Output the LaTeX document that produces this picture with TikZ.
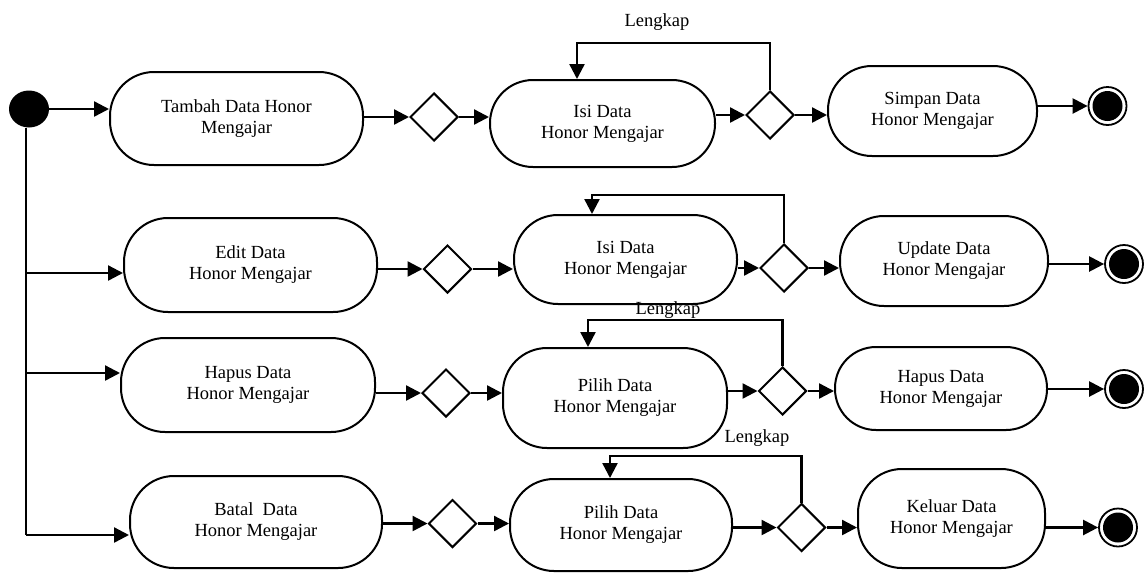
\documentclass[tikz,border=0pt]{standalone}
\usepackage{fontspec}
\setmainfont{Liberation Serif}
\usetikzlibrary{shapes.geometric,arrows.meta}
\begin{document}
\begin{tikzpicture}[x=1pt,y=-1pt,
  act/.style={draw, line width=2pt, rounded corners=44pt, align=center, font=\fontsize{18.5}{21}\selectfont, inner sep=0pt},
  dec/.style={draw, diamond, line width=2pt, minimum width=48pt, minimum height=48pt, inner sep=0pt},
  arr/.style={line width=2.4pt, -{Triangle[length=15pt,width=15pt]}},
  ln/.style={line width=2.4pt},
  lbl/.style={font=\fontsize{18.5}{21}\selectfont, inner sep=0pt},
  startst/.style={ellipse, fill=black, minimum width=40pt, minimum height=37pt, inner sep=0pt},
  endst/.style={circle, draw, line width=1.8pt, minimum size=38pt, inner sep=0pt, path picture={\fill (path picture bounding box.center) circle (15pt);}}
]
\useasboundingbox (0,0) rectangle (1147,574);

% start
\node[startst] (s) at (29,109) {};

% row 1
\node[act, minimum width=253pt, minimum height=93pt] (tambah) at (236.5,118.5) {Tambah Data Honor\\Mengajar};
\node[dec] (d1) at (434,117) {};
\node[act, rounded corners=43pt, minimum width=225pt, minimum height=87pt] (isi1) at (602.5,123.5) {Isi Data\\Honor Mengajar};
\node[dec] (d2) at (770,115) {};
\node[act, minimum width=209pt, minimum height=90pt] (simpan) at (932.5,111) {Simpan Data\\Honor Mengajar};
\node[endst] (e1) at (1107.5,106) {};

% row 2
\node[act, minimum width=253pt, minimum height=94pt] (edit) at (250.5,265) {Edit Data\\Honor Mengajar};
\node[dec] (d3) at (447.5,269) {};
\node[act, minimum width=223pt, minimum height=89pt] (isi2) at (625.5,259.5) {Isi Data\\Honor Mengajar};
\node[dec] (d4) at (784,268) {};
\node[act, minimum width=208pt, minimum height=90pt] (update) at (944,261) {Update Data\\Honor Mengajar};
\node[endst] (e2) at (1124,264) {};

% row 3
\node[act, minimum width=254pt, minimum height=94pt] (hapus1) at (248,385) {Hapus Data\\Honor Mengajar};
\node[dec] (d5) at (446,393) {};
\node[act, minimum width=224pt, minimum height=100pt] (pilih1) at (615,398) {Pilih Data\\Honor Mengajar};
\node[dec] (d6) at (782.5,391) {};
\node[act, rounded corners=41pt, minimum width=212pt, minimum height=83pt] (hapus2) at (941,388.5) {Hapus Data\\Honor Mengajar};
\node[endst] (e3) at (1124,389) {};

% row 4
\node[act, minimum width=252pt, minimum height=92pt] (batal) at (256,522) {Batal\ \ Data\\Honor Mengajar};
\node[dec] (d7) at (452.5,523.5) {};
\node[act, minimum width=222pt, minimum height=92pt] (pilih2) at (621,525) {Pilih Data\\Honor Mengajar};
\node[dec] (d8) at (801.5,527.5) {};
\node[act, minimum width=187pt, minimum height=99pt] (keluar) at (951.5,518.5) {Keluar Data\\Honor Mengajar};
\node[endst] (e4) at (1118,527.5) {};

% start branches
\coordinate (b2) at (26,273);
\coordinate (b3) at (26,373);
\coordinate (b4) at (26,535);
\draw[ln] (s.south -| b4) -- (b4);
\draw[arr] (s.east) -- (s.east -| tambah.west);
\draw[arr] (b2) -- (b2 -| edit.west);
\draw[arr] (b3) -- (b3 -| hapus1.west);
\draw[arr] (b4) -- (b4 -| batal.west);

% row 1 flow
\draw[arr] (tambah.east |- d1.west) -- (d1.west);
\draw[arr] (d1.east) -- (d1.east -| isi1.west);
\draw[arr] (isi1.east |- d2.west) -- (d2.west);
\draw[arr] (d2.east) -- (d2.east -| simpan.west);
\draw[arr] (simpan.east |- e1.west) -- (e1.west);

% row 2 flow
\draw[arr] (edit.east |- d3.west) -- (d3.west);
\draw[arr] (d3.east) -- (d3.east -| isi2.west);
\draw[arr] (isi2.east |- d4.west) -- (d4.west);
\draw[arr] (d4.east) -- (d4.east -| update.west);
\draw[arr] (update.east |- e2.west) -- (e2.west);

% row 3 flow
\draw[arr] (hapus1.east |- d5.west) -- (d5.west);
\draw[arr] (d5.east) -- (d5.east -| pilih1.west);
\draw[arr] (pilih1.east |- d6.west) -- (d6.west);
\draw[arr] (d6.east) -- (d6.east -| hapus2.west);
\draw[arr] (hapus2.east |- e3.west) -- (e3.west);

% row 4 flow
\draw[arr] (batal.east |- d7.west) -- (d7.west);
\draw[arr] (d7.east) -- (d7.east -| pilih2.west);
\draw[arr] (pilih2.east |- d8.west) -- (d8.west);
\draw[arr] (d8.east) -- (d8.east -| keluar.west);
\draw[arr] (keluar.east |- e4.west) -- (e4.west);

% loops
\coordinate (k1) at (577,43);
\coordinate (k2) at (592,195);
\coordinate (k3) at (588,320);
\coordinate (k4) at (610,456);
\draw[arr] (d2.north) |- (k1) -- (k1 |- isi1.north);
\draw[arr] (d4.north) |- (k2) -- (k2 |- isi2.north);
\draw[arr] (d6.north) |- (k3) -- (k3 |- pilih1.north);
\draw[arr] (d8.north) |- (k4) -- (k4 |- pilih2.north);
\node[lbl] (L1) at (657,22) {Lengkap};
\node[lbl] (L3) at (668,310) {Lengkap};
\node[lbl] (L4) at (757,438) {Lengkap};
\end{tikzpicture}
\end{document}
